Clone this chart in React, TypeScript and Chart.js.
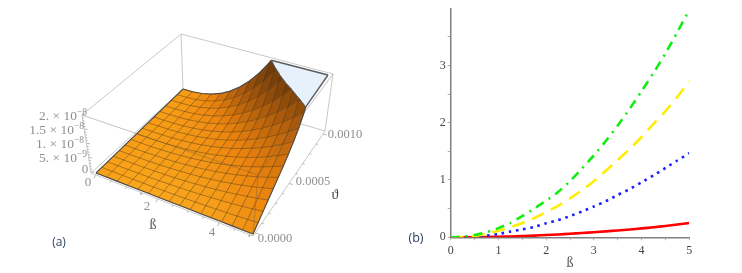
import React, { useEffect, useRef } from "react";
import { Chart, registerables } from "chart.js";

Chart.register(...registerables);
Chart.defaults.font.family = "'Liberation Serif', serif";

// ---------- Panel (b) data ----------
const betaSteps = [0, 0.25, 0.5, 0.75, 1, 1.25, 1.5, 1.75, 2, 2.25, 2.5, 2.75, 3, 3.25, 3.5, 3.75, 4, 4.25, 4.5, 4.75, 5];
const greenSeries = [0, 0.01, 0.04, 0.09, 0.16, 0.25, 0.37, 0.5, 0.64, 0.79, 0.98, 1.2, 1.43, 1.68, 1.95, 2.24, 2.55, 2.87, 3.21, 3.58, 3.97];
const yellowSeries = [0, 0.005, 0.025, 0.06, 0.115, 0.175, 0.25, 0.335, 0.44, 0.55, 0.68, 0.82, 0.98, 1.16, 1.35, 1.54, 1.75, 1.98, 2.2, 2.45, 2.72];
const blueSeries = [0, 0.002, 0.012, 0.03, 0.058, 0.1, 0.14, 0.18, 0.245, 0.3, 0.37, 0.45, 0.537, 0.63, 0.74, 0.84, 0.96, 1.08, 1.21, 1.34, 1.47];
const redSeries = [0, 0.001, 0.002, 0.005, 0.01, 0.015, 0.022, 0.03, 0.04, 0.05, 0.062, 0.074, 0.088, 0.104, 0.12, 0.136, 0.155, 0.175, 0.197, 0.222, 0.25];
const xTickValues = [0, 0.5, 1, 1.5, 2, 2.5, 3, 3.5, 4, 4.5, 5];
const yTickValues = [0, 0.5, 1, 1.5, 2, 2.5, 3, 3.5];

// ---------- Panel (a) data: z in units of 1e-9, rows = theta (0 .. 0.001), columns = beta (0 .. 5) ----------
const surfaceZ = [
  [0, 0, 0, 0, 0, 0, 0, 0, 0, 0, 0, 0, 0, 0, 0, 0],
  [0, 0, 0.01, 0.03, 0.07, 0.11, 0.18, 0.26, 0.35, 0.47, 0.6, 0.76, 0.94, 1.14, 1.36, 1.6],
  [0, 0, 0.03, 0.07, 0.13, 0.23, 0.36, 0.51, 0.71, 0.94, 1.21, 1.52, 1.88, 2.27, 2.71, 3.2],
  [0, 0.01, 0.04, 0.1, 0.2, 0.34, 0.53, 0.77, 1.06, 1.41, 1.81, 2.28, 2.81, 3.41, 4.07, 4.8],
  [0, 0.01, 0.05, 0.13, 0.27, 0.46, 0.71, 1.02, 1.41, 1.88, 2.42, 3.04, 3.75, 4.54, 5.42, 6.4],
  [0, 0.01, 0.06, 0.17, 0.34, 0.57, 0.89, 1.28, 1.77, 2.34, 3.02, 3.8, 4.69, 5.68, 6.78, 8],
  [0, 0.01, 0.08, 0.2, 0.4, 0.69, 1.07, 1.54, 2.13, 2.82, 3.64, 4.58, 5.65, 6.84, 8.17, 9.64],
  [0, 0.02, 0.09, 0.24, 0.48, 0.82, 1.27, 1.82, 2.52, 3.34, 4.31, 5.42, 6.68, 8.09, 9.66, 11.4],
  [0, 0.02, 0.11, 0.28, 0.56, 0.96, 1.49, 2.14, 2.96, 3.93, 5.07, 6.37, 7.85, 9.51, 11.35, 13.4],
  [0, 0.02, 0.12, 0.33, 0.66, 1.12, 1.74, 2.51, 3.47, 4.6, 5.93, 7.46, 9.2, 11.15, 13.3, 15.7],
  [0, 0.03, 0.15, 0.39, 0.79, 1.35, 2.09, 3.01, 4.15, 5.51, 7.11, 8.93, 11.02, 13.35, 15.92, 18.8],
  [0, 0.03, 0.18, 0.49, 0.97, 1.65, 2.56, 3.7, 5.11, 6.77, 8.73, 10.97, 13.54, 16.4, 19.57, 23.1],
  [0, 0.04, 0.23, 0.62, 1.23, 2.1, 3.25, 4.69, 6.48, 8.58, 11.08, 13.92, 17.17, 20.8, 24.82, 29.3],
  [0, 0.06, 0.3, 0.81, 1.62, 2.76, 4.27, 6.16, 8.51, 11.28, 14.55, 18.29, 22.56, 27.34, 32.61, 38.5],
  [0, 0.08, 0.4, 1.05, 2.1, 3.58, 5.55, 8, 11.05, 14.65, 18.9, 23.75, 29.3, 35.5, 42.35, 50],
  [0, 0.1, 0.51, 1.37, 2.73, 4.65, 7.22, 10.4, 14.37, 19.05, 24.57, 30.88, 38.09, 46.15, 55.06, 65],
];
const zClip = 20;
const betaMajor = [0, 2, 4];
const thetaMajor = [0, 0.0005, 0.001];
const zMajor = [0, 5, 10, 15, 20];

type V = { u: number; v: number; z: number };
type P = { x: number; y: number };

// view of the 3-D box: pixel positions of the surface and frame corners
const S = {
  b00: [96, 173], b10: [253, 234], b11: [324, 133], b01: [183, 89],
  t00: [84, 118], t10: [257, 177], t11: [328, 75], t01: [182, 37],
};
const F = {
  b00: [91, 173], b10: [253, 236], b11: [325, 131], b01: [183, 89],
  t00: [82, 115], t10: [258, 175], t11: [333, 74], t01: [181, 34],
};
const lerp = (a: number, b: number, t: number) => a + (b - a) * t;
function project(c: typeof S, u: number, v: number, f: number): P {
  const bil = (k: number, s: string) => {
    const a00 = (c as any)[s + "00"][k], a10 = (c as any)[s + "10"][k], a11 = (c as any)[s + "11"][k], a01 = (c as any)[s + "01"][k];
    return lerp(lerp(a00, a10, u), lerp(a01, a11, u), v);
  };
  return { x: lerp(bil(0, "b"), bil(0, "t"), f), y: lerp(bil(1, "b"), bil(1, "t"), f) };
}
const pz = (p: V) => project(S, p.u, p.v, Math.min(p.z, zClip) / zClip);

function clipPoly(poly: V[], below: boolean): V[] {
  const out: V[] = [];
  const inside = (p: V) => (below ? p.z <= zClip : p.z >= zClip);
  for (let i = 0; i < poly.length; i++) {
    const a = poly[i], b = poly[(i + 1) % poly.length];
    if (inside(a)) out.push(a);
    if (inside(a) !== inside(b)) {
      const t = (zClip - a.z) / (b.z - a.z);
      out.push({ u: lerp(a.u, b.u, t), v: lerp(a.v, b.v, t), z: zClip });
    }
  }
  return out;
}

function shade(du: number, dv: number, u: number, v: number) {
  const t = Math.min(1, (1 - Math.exp(-Math.hypot(du, dv * 0.6) / 48)) / 0.95);
  const warm = Math.max(0, Math.min(1, u * 0.9 + (1 - v) * 0.35 - 0.25));
  const base = [lerp(248, 255, warm), lerp(158, 184, warm), lerp(22, 40, warm)];
  const stops = [base, [236, 132, 14], [168, 88, 12], [78, 44, 10]];
  const tt = t * 3;
  const i = Math.min(2, Math.floor(tt));
  const f = tt - i;
  const col = [0, 1, 2].map((k) => Math.round(lerp(stops[i][k], stops[i + 1][k], f)));
  return `rgb(${col[0]},${col[1]},${col[2]})`;
}

function lineSet(points: P[], color: string, width: number) {
  return {
    data: points, showLine: true, pointRadius: 0, borderColor: color, borderWidth: width, fill: false, tension: 0, clip: false as any,
  };
}
function shapeSet(points: P[], color: string) {
  return {
    data: [...points, points[0]], showLine: true, pointRadius: 0, borderColor: color, borderWidth: 0.7,
    backgroundColor: color, fill: "shape", tension: 0, clip: false as any,
  };
}

function buildSurfaceDatasets() {
  const paint: any[] = [];
  const n = surfaceZ.length - 1;
  const m = surfaceZ[0].length - 1;
  const V_ = (i: number, j: number): V => ({ u: j / m, v: i / n, z: surfaceZ[i][j] });
  const frameGrey = "#c9c9c9";
  const fr = (a: number[], b: number[]) => [{ x: a[0], y: a[1] }, { x: b[0], y: b[1] }];

  // frame behind the surface
  paint.push(lineSet(fr(F.t00, F.t01), frameGrey, 1));
  paint.push(lineSet(fr(F.t01, F.t11), frameGrey, 1));
  paint.push(lineSet(fr(F.t01, F.b01), frameGrey, 1));
  paint.push(lineSet(fr(F.b01, F.b11), frameGrey, 1));
  paint.push(lineSet(fr(F.b00, F.b01), frameGrey, 1));
  paint.push(lineSet(fr(F.t11, F.b11), frameGrey, 1));

  // surface cells: back rows first
  const isoSegments: P[][] = [];
  for (let i = n - 1; i >= 0; i--) {
    for (let j = 0; j < m; j++) {
      const q = [V_(i, j), V_(i, j + 1), V_(i + 1, j + 1), V_(i + 1, j)];
      const du = ((q[1].z - q[0].z + q[2].z - q[3].z) / 2) * m;
      const dv = ((q[3].z - q[0].z + q[2].z - q[1].z) / 2) * n;
      const low = clipPoly(q, true);
      const high = clipPoly(q, false);
      if (high.length >= 3) paint.push(shapeSet(high.map(pz), "#e6f1fc"));
      if (low.length >= 3) {
        paint.push(shapeSet(low.map(pz), shade(du, dv, (j + 0.5) / m, (i + 0.5) / n)));
        if (high.length >= 3) {
          const edge = low.filter((p) => p.z === zClip);
          const uniq = edge.filter((p, k) => edge.findIndex((o) => o.u === p.u && o.v === p.v) === k);
          if (uniq.length >= 2) isoSegments.push(uniq.slice(0, 2).map(pz));
        }
      }
    }
  }

  // mesh lines, split where the surface leaves the box
  const pushRuns = (verts: V[], color: string, width: number) => {
    let run: P[] = [];
    for (let k = 0; k < verts.length; k++) {
      const a = verts[k];
      if (a.z <= zClip) run.push(pz(a));
      const b = verts[k + 1];
      if (b && (a.z <= zClip) !== (b.z <= zClip)) {
        const t = (zClip - a.z) / (b.z - a.z);
        run.push(pz({ u: lerp(a.u, b.u, t), v: lerp(a.v, b.v, t), z: zClip }));
        if (a.z <= zClip) {
          paint.push(lineSet(run, color, width));
          run = [];
        }
      }
    }
    if (run.length > 1) paint.push(lineSet(run, color, width));
  };
  const meshColor = "rgba(70,48,16,0.55)";
  for (let i = 1; i < n; i++) pushRuns(surfaceZ[i].map((_, j) => V_(i, j)), meshColor, 0.8);
  for (let j = 1; j < m; j++) pushRuns(surfaceZ.map((_, i) => V_(i, j)), meshColor, 0.8);

  // surface outline
  const edgeColor = "#4a4a4a";
  pushRuns(surfaceZ[0].map((_, j) => V_(0, j)), edgeColor, 1.1);
  pushRuns(surfaceZ[n].map((_, j) => V_(n, j)), edgeColor, 1.1);
  pushRuns(surfaceZ.map((_, i) => V_(i, 0)), edgeColor, 1.1);
  pushRuns(surfaceZ.map((_, i) => V_(i, m)), edgeColor, 1.1);
  isoSegments.forEach((s) => paint.push(lineSet(s, "#5a5a5a", 1)));
  // outline of the clipped top
  const topRow = surfaceZ[n].findIndex((z) => z > zClip);
  const topCol = surfaceZ.findIndex((r) => r[m] > zClip);
  const za = surfaceZ[n][topRow - 1], zb = surfaceZ[n][topRow];
  const ca = surfaceZ[topCol - 1][m], cb = surfaceZ[topCol][m];
  const corner = pz({ u: 1, v: 1, z: zClip });
  paint.push(lineSet([pz({ u: (topRow - 1 + (zClip - za) / (zb - za)) / m, v: 1, z: zClip }), corner], "#5c5c5c", 1.4));
  paint.push(lineSet([pz({ u: 1, v: (topCol - 1 + (zClip - ca) / (cb - ca)) / n, z: zClip }), corner], "#5c5c5c", 1.4));

  // frame in front of the surface
  const front = "rgba(95,85,75,0.36)";
  paint.push(lineSet(fr(F.t00, F.t10), front, 1));
  paint.push(lineSet(fr(F.t10, F.t11), front, 1));
  paint.push(lineSet(fr(F.t10, F.b10), front, 1));
  paint.push(lineSet(fr(F.t00, F.b00), frameGrey, 1));
  paint.push(lineSet(fr(F.b00, F.b10), frameGrey, 1));
  paint.push(lineSet(fr(F.b10, F.b11), frameGrey, 1));

  // axis ticks
  const tickColor = "#a8a8a8";
  const tick = (a: number[], b: number[], t: number, dx: number, dy: number) => {
    const x = lerp(a[0], b[0], t), y = lerp(a[1], b[1], t);
    paint.push(lineSet([{ x, y }, { x: x + dx, y: y + dy }], tickColor, 0.8));
  };
  for (let k = 0; k <= 10; k++) {
    const val = k * 0.5;
    const maj = betaMajor.includes(val);
    tick(F.b00, F.b10, (val + 0.15) / 5.25, maj ? -1.5 : -0.8, maj ? 3.5 : 2);
  }
  for (let k = 0; k <= 10; k++) {
    const val = k * 0.0001;
    const maj = thetaMajor.some((t) => Math.abs(t - val) < 1e-9);
    tick(F.b10, F.b11, (val + 0.00003) / 0.00106, maj ? 4 : 2, maj ? 1 : 0.5);
  }
  for (let k = 0; k <= 20; k++) {
    const maj = zMajor.includes(k);
    tick(F.b00, F.t00, (k + 0.4) / 20.4, maj ? 3.5 : 1.8, 0.2);
  }
  return paint.reverse();
}

// ---------- text of panel (a) ----------
const zLabelTexts = ["2. \u00d7 10", "1.5 \u00d7 10", "1. \u00d7 10", "5. \u00d7 10"];
const zLabelExps = ["\u22128", "\u22128", "\u22128", "\u22129"];
const zLabelRight = [87, 84, 84, 87];
const zLabelY = [116, 130, 144, 158];
const plainLabels = [
  { t: "0", x: 85, y: 170, c: "#8f8f8f", s: 13 },
  { t: "0", x: 88, y: 183, c: "#8f8f8f", s: 13 },
  { t: "2", x: 147, y: 207, c: "#8f8f8f", s: 13 },
  { t: "4", x: 212, y: 233, c: "#8f8f8f", s: 13 },
  { t: "0.0000", x: 275, y: 239, c: "#8f8f8f", s: 12.5 },
  { t: "0.0005", x: 313, y: 182, c: "#8f8f8f", s: 12.5 },
  { t: "0.0010", x: 345, y: 135, c: "#8f8f8f", s: 12.5 },
  { t: "\u00df", x: 153, y: 225, c: "#555555", s: 14 },
  { t: "\u03d1", x: 335, y: 195, c: "#444444", s: 14 },
];

const textPluginA = {
  id: "panelAText",
  afterDatasetsDraw(chart: any) {
    const ctx = chart.ctx;
    ctx.save();
    ctx.textBaseline = "middle";
    ctx.fillStyle = "#8f8f8f";
    zLabelTexts.forEach((t, i) => {
      ctx.font = "9.5px 'Liberation Serif'";
      const ew = ctx.measureText(zLabelExps[i]).width;
      ctx.textAlign = "left";
      ctx.fillText(zLabelExps[i], zLabelRight[i] - ew, zLabelY[i] - 3.5);
      ctx.font = "13.5px 'Liberation Serif'";
      ctx.textAlign = "right";
      ctx.fillText(t, zLabelRight[i] - ew, zLabelY[i]);
    });
    ctx.textAlign = "center";
    plainLabels.forEach((l) => {
      ctx.font = `${l.s}px 'Liberation Serif'`;
      ctx.fillStyle = l.c;
      ctx.fillText(l.t, l.x, l.y);
    });
    ctx.font = "12px 'Open Sans'";
    ctx.fillStyle = "#2b3f5c";
    ctx.fillText("(a)", 59, 243);
    ctx.restore();
  },
};
const textPluginB = {
  id: "panelBText",
  afterDatasetsDraw(chart: any) {
    const ctx = chart.ctx;
    ctx.save();
    ctx.textBaseline = "middle";
    ctx.textAlign = "center";
    ctx.font = "12.5px 'Open Sans'";
    ctx.fillStyle = "#2b3f5c";
    ctx.fillText("(b)", 16, 238);
    ctx.restore();
  },
};

const toXY = (ys: number[]) => ys.map((y, i) => ({ x: betaSteps[i], y }));

export default function App() {
  const aRef = useRef<HTMLCanvasElement>(null);
  const bRef = useRef<HTMLCanvasElement>(null);
  useEffect(() => {
    const a = new Chart(aRef.current!, {
      type: "scatter",
      data: { datasets: buildSurfaceDatasets() as any },
      plugins: [textPluginA],
      options: {
        animation: false,
        responsive: false,
        layout: { padding: 0 },
        plugins: { legend: { display: false }, tooltip: { enabled: false } },
        scales: {
          x: { type: "linear", min: 0, max: 380, display: false },
          y: { type: "linear", min: 0, max: 273, reverse: true, display: false },
        },
      },
    } as any);
    const axisFont = { family: "'Liberation Serif', serif", size: 12 };
    const b = new Chart(bRef.current!, {
      type: "line",
      data: {
        datasets: [
          { data: toXY(greenSeries), borderColor: "#12ee12", borderWidth: 2.6, borderDash: [9, 6, 2, 6], pointRadius: 0, fill: false, tension: 0.2 },
          { data: toXY(yellowSeries), borderColor: "#ffee00", borderWidth: 2.6, borderDash: [13, 8], pointRadius: 0, fill: false, tension: 0.2 },
          { data: toXY(blueSeries), borderColor: "#1a22ff", borderWidth: 2.6, borderDash: [2.6, 4.7], pointRadius: 0, fill: false, tension: 0.2 },
          { data: toXY(redSeries), borderColor: "#ff0000", borderWidth: 2.6, pointRadius: 0, fill: false, tension: 0.2 },
        ],
      },
      plugins: [textPluginB],
      options: {
        animation: false,
        responsive: false,
        layout: { padding: { left: 10.7, right: 52.7, top: 5, bottom: 0 } },
        plugins: { legend: { display: false }, tooltip: { enabled: false } },
        scales: {
          x: {
            type: "linear", min: 0, max: 5,
            afterFit: (s: any) => { s.height = 35.7; },
            afterBuildTicks: (s: any) => { s.ticks = xTickValues.map((value) => ({ value })); },
            border: { color: "#808080", width: 1.5 },
            grid: { drawOnChartArea: false, tickLength: 3, tickColor: "#b0b0b0" },
            ticks: {
              autoSkip: false, maxRotation: 0, padding: 3, color: "#444", font: axisFont,
              callback: (v: any) => (Number.isInteger(v) ? String(v) : ""),
            },
            title: { display: true, text: "\u00df", color: "#555", font: { family: "'Liberation Serif', serif", size: 14 }, padding: { top: 0, bottom: 1 } },
          },
          y: {
            type: "linear", min: 0, max: 3.98,
            afterFit: (s: any) => { s.width = 40; },
            afterBuildTicks: (s: any) => { s.ticks = yTickValues.map((value) => ({ value })); },
            border: { color: "#808080", width: 1.5 },
            grid: { drawOnChartArea: false, tickLength: 3, tickColor: "#b0b0b0" },
            ticks: {
              autoSkip: false, padding: 2, color: "#444", font: axisFont,
              callback: (v: any) => (Number.isInteger(v) ? String(v) : ""),
            },
          },
        },
      },
    } as any);
    return () => { a.destroy(); b.destroy(); };
  }, []);
  return (
    <div style={{ position: "absolute", left: 0, top: 0, width: 742, height: 273, background: "#fff", overflow: "hidden" }}>
      <canvas ref={aRef} width={380} height={273} style={{ position: "absolute", left: 0, top: 0, filter: "blur(0.6px)" }} />
      <canvas ref={bRef} width={342} height={273} style={{ position: "absolute", left: 400, top: 0, filter: "blur(0.4px)" }} />
    </div>
  );
}
